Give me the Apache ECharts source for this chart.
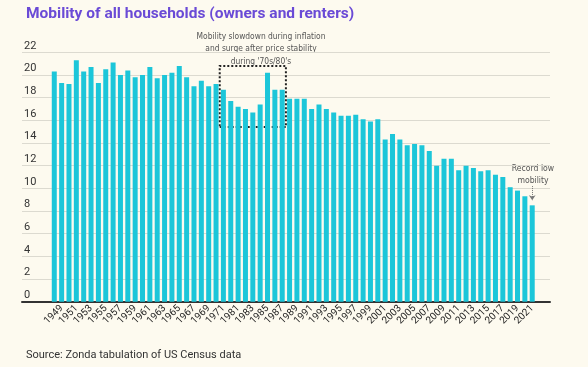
<!DOCTYPE html>
<html>
<head>
<meta charset="utf-8">
<script src="https://cdn.jsdelivr.net/npm/echarts@6/dist/echarts.min.js"></script>
<style>
html,body{margin:0;padding:0;background:#fdfaef;}
#c{width:588px;height:367px;}
</style>
</head>
<body>
<div id="c"></div>
<script>
// Categories (survey years); one unlabeled bar sits between 1971 and 1981
var years = ['1948','1949','1950','1951','1952','1953','1954','1955','1956','1957','1958','1959',
  '1960','1961','1962','1963','1964','1965','1966','1967','1968','1969','1970','1971','1975',
  '1981','1982','1983','1984','1985','1986','1987','1988','1989','1990','1991','1992','1993',
  '1994','1995','1996','1997','1998','1999','2000','2001','2002','2003','2004','2005','2006',
  '2007','2008','2009','2010','2011','2012','2013','2014','2015','2016','2017','2018','2019',
  '2020','2021'];
// Mover rate (%) of all households
var moverRate = [20.3,19.3,19.2,21.3,20.3,20.7,19.3,20.5,21.1,20.0,20.4,19.8,
  20.0,20.7,19.7,20.0,20.2,20.8,19.8,19.0,19.5,19.0,19.2,18.7,17.7,
  17.2,17.0,16.7,17.4,20.2,18.7,18.7,17.9,17.9,17.9,17.0,17.4,17.0,
  16.7,16.4,16.4,16.5,16.1,15.9,16.1,14.3,14.8,14.3,13.8,13.9,13.8,
  13.3,12.0,12.6,12.6,11.6,12.0,11.8,11.5,11.6,11.2,11.0,10.1,9.8,
  9.3,8.5];
var yTicks = {min: 0, max: 22, interval: 2};
var boxRange = {from: '1971', to: '1987', low: 15.4, high: 20.8};
var arrowRange = {year: '2021', from: 10.2, to: 8.95};
var titleText = 'Mobility of all households (owners and renters)';
var sourceText = 'Source: Zonda tabulation of US Census data';
var noteLines = ['Mobility slowdown during inflation', 'and surge after price stability', "during '70s/80's"];
var recordLines = ['Record low', 'mobility'];

var chart = echarts.init(document.getElementById('c'), null, {renderer: 'canvas'});
var labelFont = "Roboto, 'Noto Sans', sans-serif";
var noteFont = "'Liberation Sans Narrow', 'DejaVu Sans Condensed', Roboto, sans-serif";

chart.setOption({
  backgroundColor: '#fdfaef',
  animation: false,
  title: {
    text: titleText, left: 21, top: 1,
    textStyle: {color: '#6a4ad6', fontSize: 15.5, fontWeight: 'bold', fontFamily: labelFont}
  },
  grid: [
    {left: 22, right: 38, top: 52.3, bottom: 65.3},
    {left: 50.6, right: 52.1, top: 52.3, bottom: 65.3}
  ],
  xAxis: [
    {type: 'value', gridIndex: 0, min: 0, max: 1, show: true,
      axisLine: {show: true, lineStyle: {color: '#333', width: 2}},
      axisTick: {show: false}, axisLabel: {show: false}, splitLine: {show: false}},
    {type: 'category', gridIndex: 1, data: years, boundaryGap: true,
      axisLine: {show: false}, axisTick: {show: false},
      axisLabel: {
        interval: function (i) { return i % 2 === 1 && i !== 24; },
        rotate: 45, fontSize: 10, color: '#222', margin: 5, fontFamily: labelFont
      }}
  ],
  yAxis: [
    {type: 'value', gridIndex: 0, min: yTicks.min, max: yTicks.max, interval: yTicks.interval,
      axisLine: {show: false}, axisTick: {show: false},
      splitLine: {show: true, lineStyle: {color: '#dcdad0', width: 1.2}},
      axisLabel: {inside: true, align: 'left', verticalAlign: 'bottom', margin: 2,
        padding: [0, 0, 1, 0], fontSize: 11, color: '#333', fontFamily: labelFont}},
    {type: 'value', gridIndex: 1, min: yTicks.min, max: yTicks.max, interval: yTicks.interval,
      show: false, splitLine: {show: false}}
  ],
  series: [{
    type: 'bar', xAxisIndex: 1, yAxisIndex: 1, data: moverRate,
    barWidth: 5, itemStyle: {color: '#1cc6d9'},
    markArea: {
      silent: true,
      itemStyle: {color: 'rgba(0,0,0,0)', borderColor: '#222', borderWidth: 2, borderType: 'dotted'},
      label: {show: false},
      data: [[{xAxis: boxRange.from, yAxis: boxRange.high}, {xAxis: boxRange.to, yAxis: boxRange.low}]]
    },
    markLine: {
      silent: true, symbol: ['none', 'arrow'], symbolSize: 5,
      lineStyle: {color: '#777', type: 'dotted', width: 1},
      label: {show: false},
      data: [[{coord: [arrowRange.year, arrowRange.from]}, {coord: [arrowRange.year, arrowRange.to]}]]
    }
  }],
  graphic: [
    {type: 'text', x: 261, y: 30, style: {
      text: noteLines.join('\n'), textAlign: 'center', lineHeight: 12.7,
      fill: '#555', font: "8.4px " + noteFont}},
    {type: 'text', x: 533, y: 163, style: {
      text: recordLines.join('\n'), textAlign: 'center', lineHeight: 12,
      fill: '#555', font: "8.6px " + noteFont}},
    {type: 'text', x: 26, y: 350, style: {
      text: sourceText, fill: '#333', font: "11px " + labelFont}}
  ]
});
</script>
</body>
</html>
